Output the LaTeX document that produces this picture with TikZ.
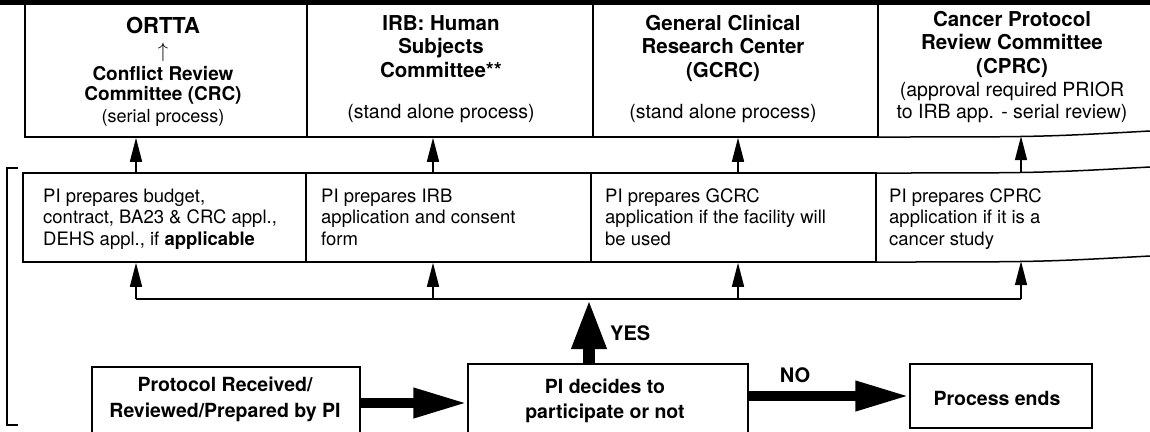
\documentclass[tikz,border=0pt]{standalone}
\usepackage{fontspec}
\setmainfont{TeX Gyre Heros}
\usetikzlibrary{arrows.meta,calc}
\begin{document}
\begin{tikzpicture}[x=1pt,y=-1pt,
  box/.style={draw, line width=1.5pt, inner sep=0pt},
  ghost/.style={inner sep=0pt},
  edge/.style={line width=1.5pt},
  arr/.style={line width=1.5pt,-{Triangle[length=24pt,width=12pt]}},
  fatarr/.style={line width=10pt,-{Triangle[length=54pt,width=28pt]}},
  yesarr/.style={line width=12pt,-{Triangle[length=50pt,width=32pt]}},
  ttl/.style={anchor=base,inner sep=0pt,font=\bfseries\fontsize{22}{22}\selectfont},
  hd/.style={anchor=base,inner sep=0pt,font=\bfseries\fontsize{20.5}{20.5}\selectfont},
  hdsm/.style={anchor=base,inner sep=0pt,font=\bfseries\fontsize{19}{19}\selectfont},
  sub/.style={anchor=base,inner sep=0pt,font=\fontsize{19.5}{19.5}\selectfont},
  subsm/.style={anchor=base,inner sep=0pt,font=\fontsize{18}{18}\selectfont},
  mid/.style={anchor=base west,inner sep=0pt,font=\fontsize{18.5}{18.5}\selectfont},
  lbl/.style={anchor=base,inner sep=0pt,font=\bfseries\fontsize{19.5}{19.5}\selectfont},
]
\useasboundingbox (0,0) rectangle (1150,431);
\clip (0,0) rectangle (1150,431);
\fill[white] (0,0) rectangle (1150,431);
% top band
\fill (0,0) rectangle (1150,5);

% top row
\node[box, minimum width=282pt, minimum height=134pt] (t1) at (166,70) {};
\node[box, minimum width=286pt, minimum height=134pt] (t2) at (450,70) {};
\node[box, minimum width=285pt, minimum height=134pt] (t3) at (735.5,70) {};
\node[ghost, minimum width=272pt, minimum height=133pt] (t4) at (1014,69.5) {};
\draw[edge] (878,3) -- (878,137) .. controls (1040,137) .. (1150,131);

\node[ttl] (t1a) at (163,33) {ORTTA};
\node[anchor=base,inner sep=0pt,font=\fontsize{22}{22}\selectfont] (t1b) at (163,57) {$\uparrow$};
\node[hdsm] (t1c) at (163,80) {Conflict Review};
\node[hdsm] (t1d) at (163,100) {Committee (CRC)};
\node[subsm] (t1e) at (163,122) {(serial process)};

\node[hd] (t2a) at (441,30) {IRB: Human};
\node[hd] (t2b) at (441,53) {Subjects};
\node[hd] (t2c) at (441,77) {Committee**};
\node[sub] (t2d) at (441,118) {(stand alone process)};

\node[hd] (t3a) at (723,30) {General Clinical};
\node[hd] (t3b) at (723,53) {Research Center};
\node[hd] (t3c) at (723,77) {(GCRC)};
\node[sub] (t3d) at (723,118) {(stand alone process)};

\node[hd] (t4a) at (1012,26) {Cancer Protocol};
\node[hd] (t4b) at (1012,49) {Review Committee};
\node[hd] (t4c) at (1012,73) {(CPRC)};
\node[sub] (t4d) at (1012,96) {(approval required PRIOR};
\node[sub] (t4e) at (1012,118) {to IRB app. - serial review)};

% middle row
\node[box, minimum width=283pt, minimum height=89pt] (m1) at (164.5,217.5) {};
\node[box, minimum width=285pt, minimum height=89pt] (m2) at (448.5,217.5) {};
\node[box, minimum width=285pt, minimum height=89pt] (m3) at (733.5,217.5) {};
\node[ghost, minimum width=274pt, minimum height=89pt] (m4) at (1013,216.5) {};
\draw[edge] (1150,167) .. controls (1040,173) .. (876,173) -- (876,262) .. controls (1040,262) .. (1150,256);

\node[mid] (m1a) at (43,202) {PI prepares budget,};
\node[mid] (m1b) at (43,223) {contract, BA23 \& CRC appl.,};
\node[mid] (m1c) at (43,245) {DEHS appl., if \textbf{applicable}};
\node[mid] (m2a) at (321,202) {PI prepares IRB};
\node[mid] (m2b) at (321,223) {application and consent};
\node[mid] (m2c) at (321,245) {form};
\node[mid] (m3a) at (605,202) {PI prepares GCRC};
\node[mid] (m3b) at (605,223) {application if the facility will};
\node[mid] (m3c) at (605,245) {be used};
\node[mid] (m4a) at (889,202) {PI prepares CPRC};
\node[mid] (m4b) at (889,223) {application if it is a};
\node[mid] (m4c) at (889,245) {cancer study};

% distribution line
\coordinate (d1) at (136,299);
\coordinate (d2) at (433,299);
\coordinate (d3) at (738,299);
\coordinate (d4) at (1021,299);
\coordinate (dy) at (589,299);
\draw[edge] (d1) -- (d4);
\foreach \i in {1,...,4} {
  \draw[arr] (d\i) -- (m\i.south -| d\i);
  \draw[arr] (m\i.north -| d\i) -- (t\i.south -| d\i);
}

% left bracket
\draw[line width=1.6pt] (18,168) -- (7,168) -- (7,425) -- (18,425);

% bottom row
\node[box, minimum width=268pt, minimum height=72pt] (b1) at (226,403) {};
\node[box, minimum width=280pt, minimum height=82pt] (b2) at (608,405) {};
\node[box, minimum width=182pt, minimum height=64pt] (b3) at (1001,396) {};

\node[lbl] (b1a) at (225,391) {Protocol Received/};
\node[lbl] (b1b) at (225,417) {Reviewed/Prepared by PI};
\node[lbl] (b2a) at (605,393) {PI decides to};
\node[lbl] (b2b) at (605,418) {participate or not};
\node[lbl] (b3a) at (997,405) {Process ends};

\draw[fatarr] (b1.east) -- (b2.west |- b1.east);
\draw[fatarr] (b2.east |- b3.west) -- (b3.west);
\draw[yesarr] (b2.north -| dy) -- (dy);

\node[lbl, font=\bfseries\fontsize{20}{20}\selectfont, anchor=base west] (yes) at (610,340) {YES};
\node[lbl, font=\bfseries\fontsize{20}{20}\selectfont] (no) at (795,382) {NO};
\end{tikzpicture}
\end{document}
